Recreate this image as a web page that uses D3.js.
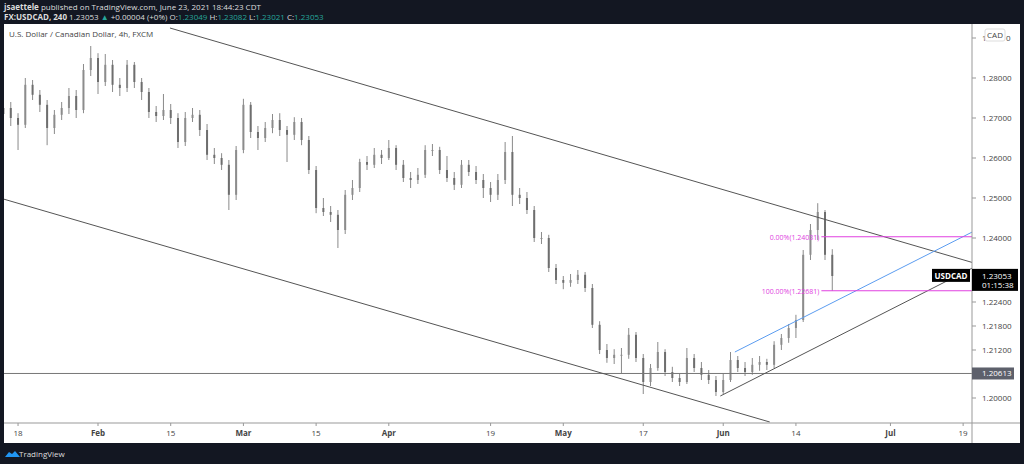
<!DOCTYPE html>
<html><head><meta charset="utf-8">
<script src="https://cdn.jsdelivr.net/npm/d3@7"></script>
<style>
body{margin:0;background:#131722;}
svg{display:block;font-family:"Open Sans",sans-serif;}
</style></head><body>
<svg id="chart" width="1024" height="464"></svg>
<script>
// daily OHLC, index 0 = Jan 14 2021
const opens = [1.2710,1.2725,1.2700,1.2683,1.2783,1.2758,1.2733,1.2675,1.2708,1.2725,1.2755,1.2720,1.2820,1.2850,1.2790,1.2833,1.2783,1.2775,1.2833,1.2790,
1.2765,1.2715,1.2705,1.2720,1.2700,1.2640,1.2700,1.2708,1.2670,1.2608,1.2600,1.2583,1.2508,1.2620,1.2733,1.2665,1.2650,1.2675,1.2695,1.2670,
1.2658,1.2690,1.2645,1.2570,1.2475,1.2465,1.2458,1.2420,1.2508,1.2525,1.2590,1.2583,1.2608,1.2600,1.2625,1.2583,1.2550,1.2545,1.2558,1.2620,
1.2620,1.2570,1.2550,1.2533,1.2583,1.2565,1.2545,1.2525,1.2508,1.2545,1.2615,1.2508,1.2500,1.2470,1.2400,1.2400,1.2325,1.2295,1.2288,1.2295,
1.2308,1.2275,1.2183,1.2120,1.2100,1.2108,1.2108,1.2158,1.2100,1.2040,1.2075,1.2115,1.2065,1.2050,1.2040,1.2100,1.2075,1.2058,1.2045,1.2015,
1.2045,1.2095,1.2075,1.2065,1.2083,1.2090,1.2083,1.2133,1.2150,1.2175,1.2195,1.2358,1.2420,1.2465,1.2358];
const highs = [1.2745,1.2740,1.2712,1.2800,1.2795,1.2770,1.2745,1.2720,1.2740,1.2775,1.2770,1.2835,1.2880,1.2862,1.2860,1.2845,1.2800,1.2845,1.2840,1.2800,
1.2775,1.2730,1.2760,1.2735,1.2712,1.2715,1.2725,1.2720,1.2685,1.2625,1.2612,1.2595,1.2630,1.2748,1.2740,1.2680,1.2690,1.2710,1.2712,1.2680,
1.2702,1.2700,1.2655,1.2580,1.2500,1.2480,1.2470,1.2520,1.2545,1.2598,1.2605,1.2625,1.2620,1.2645,1.2632,1.2595,1.2565,1.2575,1.2632,1.2635,
1.2628,1.2605,1.2565,1.2595,1.2595,1.2580,1.2560,1.2540,1.2560,1.2640,1.2655,1.2525,1.2515,1.2480,1.2415,1.2408,1.2335,1.2305,1.2310,1.2320,
1.2315,1.2285,1.2192,1.2135,1.2122,1.2125,1.2175,1.2165,1.2110,1.2085,1.2140,1.2122,1.2078,1.2062,1.2125,1.2110,1.2090,1.2070,1.2055,1.2060,
1.2115,1.2105,1.2090,1.2100,1.2105,1.2098,1.2142,1.2160,1.2185,1.2208,1.2370,1.2435,1.2487,1.2470,1.2372];
const lows = [1.2695,1.2680,1.2620,1.2675,1.2745,1.2715,1.2632,1.2660,1.2695,1.2710,1.2700,1.2712,1.2805,1.2760,1.2780,1.2765,1.2755,1.2765,1.2775,1.2745,
1.2700,1.2690,1.2695,1.2685,1.2625,1.2630,1.2690,1.2655,1.2595,1.2585,1.2570,1.2470,1.2495,1.2612,1.2650,1.2620,1.2640,1.2662,1.2655,1.2590,
1.2645,1.2632,1.2560,1.2462,1.2455,1.2440,1.2375,1.2410,1.2495,1.2515,1.2570,1.2575,1.2585,1.2595,1.2570,1.2540,1.2525,1.2535,1.2550,1.2605,
1.2560,1.2540,1.2520,1.2525,1.2555,1.2535,1.2500,1.2490,1.2495,1.2535,1.2480,1.2485,1.2460,1.2390,1.2385,1.2315,1.2285,1.2272,1.2278,1.2285,
1.2265,1.2175,1.2110,1.2088,1.2085,1.2062,1.2098,1.2090,1.2010,1.2030,1.2068,1.2055,1.2040,1.2030,1.2035,1.2065,1.2045,1.2035,1.2005,1.2010,
1.2040,1.2065,1.2055,1.2058,1.2068,1.2070,1.2075,1.2120,1.2138,1.2150,1.2190,1.2345,1.2395,1.2345,1.2268];
const closes = [1.2725,1.2700,1.2683,1.2783,1.2758,1.2733,1.2675,1.2708,1.2725,1.2755,1.2720,1.2820,1.2850,1.2790,1.2833,1.2783,1.2775,1.2833,1.2790,1.2765,
1.2715,1.2705,1.2720,1.2700,1.2640,1.2700,1.2708,1.2670,1.2608,1.2600,1.2583,1.2508,1.2620,1.2733,1.2665,1.2650,1.2675,1.2695,1.2670,1.2658,
1.2690,1.2645,1.2570,1.2475,1.2465,1.2458,1.2420,1.2508,1.2525,1.2590,1.2583,1.2608,1.2600,1.2625,1.2583,1.2550,1.2545,1.2558,1.2620,1.2620,
1.2570,1.2550,1.2533,1.2583,1.2565,1.2545,1.2525,1.2508,1.2545,1.2615,1.2508,1.2500,1.2470,1.2400,1.2400,1.2325,1.2295,1.2288,1.2295,1.2308,
1.2275,1.2183,1.2120,1.2100,1.2108,1.2108,1.2158,1.2100,1.2040,1.2075,1.2115,1.2065,1.2050,1.2040,1.2100,1.2075,1.2058,1.2045,1.2015,1.2045,
1.2095,1.2075,1.2065,1.2083,1.2090,1.2083,1.2133,1.2150,1.2175,1.2195,1.2358,1.2420,1.2465,1.2358,1.2305];

const xTickIdx = [2,13,23,33,43,53,67,77,88,99,109,122,132];
const xTickText = ["18","Feb","15","Mar","15","Apr","19","May","17","Jun","14","Jul","19"];
const xTickBold = [false,true,false,true,false,true,false,true,false,true,false,true,false];
const yTicks = [1.28,1.27,1.26,1.25,1.24,1.224,1.218,1.212,1.20];

// drawn lines: [idx1, price1, idx2, price2]
const trendLines = [
  {p:[22.9,1.2925,140,1.2303], c:"#555"},
  {p:[-0.5,1.2500,105.4,1.1940], c:"#555"},
  {p:[98.6,1.2005,140,1.2387], c:"#555"},
  {p:[100.6,1.2115,140,1.2477], c:"#5b9cf0"}
];
const hLine = 1.20613;
const fibLevels = [{v:1.24031,t:"0.00%(1.24031)"},{v:1.22681,t:"100.00%(1.22681)"}];
const fibStart = 112.5;
const lastPrice = 1.23053;

const svg = d3.select("#chart");
const L = 4, R = 972, T = 24, B = 423;

svg.append("rect").attr("x",4).attr("y",24).attr("width",1016).attr("height",419).attr("fill","#fff");

const x = d3.scaleLinear().domain([0,1]).range([3.5,10.77]);
const y = d3.scaleLinear().domain([1.24,1.25]).range([238,198]);

const defs = svg.append("defs");
defs.append("clipPath").attr("id","plot").append("rect").attr("x",L).attr("y",T).attr("width",R-L).attr("height",B-T);
const plot = svg.append("g").attr("clip-path","url(#plot)");

// candles
const idx = d3.range(closes.length);
plot.selectAll(".wick").data(idx).enter().append("line")
  .attr("x1",i=>x(i)).attr("x2",i=>x(i)).attr("y1",i=>y(highs[i])).attr("y2",i=>y(lows[i]))
  .attr("stroke","#8a8a8a").attr("stroke-width",1);
plot.selectAll(".body").data(idx).enter().append("rect")
  .attr("x",i=>x(i)-1).attr("width",2)
  .attr("y",i=>y(Math.max(opens[i],closes[i])))
  .attr("height",i=>Math.max(1,Math.abs(y(opens[i])-y(closes[i]))))
  .attr("fill",i=>closes[i]>=opens[i]?"#8c8c8c":"#6e6e6e");

// lines
plot.append("line").attr("x1",L).attr("x2",R).attr("y1",y(hLine)).attr("y2",y(hLine)).attr("stroke","#777");
trendLines.forEach(l=>{
  plot.append("line").attr("x1",x(l.p[0])).attr("y1",y(l.p[1])).attr("x2",x(l.p[2])).attr("y2",y(l.p[3]))
    .attr("stroke",l.c).attr("stroke-width",1);
});
fibLevels.forEach(f=>{
  plot.append("line").attr("x1",x(fibStart)).attr("x2",R).attr("y1",y(f.v)).attr("y2",y(f.v)).attr("stroke","#e040e0");
  plot.append("text").attr("x",x(fibStart)-2).attr("y",y(f.v)+3).attr("text-anchor","end")
    .attr("font-size",7).attr("fill","#e040e0").text(f.t);
});

// axes
svg.append("line").attr("x1",R).attr("x2",R).attr("y1",T).attr("y2",443).attr("stroke","#999");
svg.append("line").attr("x1",L).attr("x2",1020).attr("y1",B).attr("y2",B).attr("stroke","#999");
const yAx = svg.append("g").selectAll("g").data(yTicks).enter().append("g");
yAx.append("line").attr("x1",R).attr("x2",R+4).attr("y1",d=>y(d)).attr("y2",d=>y(d)).attr("stroke","#999");
yAx.append("text").attr("x",R+10).attr("y",d=>y(d)+3).attr("font-size",8).attr("fill","#444").text(d=>d.toFixed(5));
// top tick partly hidden under the currency badge
svg.append("line").attr("x1",R).attr("x2",R+4).attr("y1",y(1.29)).attr("y2",y(1.29)).attr("stroke","#999");
svg.append("text").attr("x",R+10).attr("y",y(1.29)+3).attr("font-size",8).attr("fill","#444").text("1.");
svg.append("text").attr("x",1006).attr("y",y(1.29)+3).attr("font-size",8).attr("fill","#444").text("0");
const xAx = svg.append("g").selectAll("g").data(xTickIdx).enter().append("g");
xAx.append("line").attr("x1",i=>x(i)).attr("x2",i=>x(i)).attr("y1",B).attr("y2",B+3).attr("stroke","#999");
xAx.append("text").attr("x",i=>x(i)).attr("y",436).attr("text-anchor","middle").attr("font-size",8)
  .attr("font-weight",(d,k)=>xTickBold[k]?"bold":"normal").attr("fill","#444").text((d,k)=>xTickText[k]);

// CAD badge
svg.append("rect").attr("x",985).attr("y",29).attr("width",20).attr("height",12).attr("fill","#fff").attr("stroke","#ddd").attr("rx",2);
svg.append("text").attr("x",995).attr("y",38).attr("text-anchor","middle").attr("font-size",8).attr("fill","#444").text("CAD");

// price labels
svg.append("rect").attr("x",R).attr("y",y(hLine)-6).attr("width",42).attr("height",12).attr("fill","#5d606b");
svg.append("text").attr("x",R+10).attr("y",y(hLine)+3).attr("font-size",8).attr("fill","#fff").text(hLine.toFixed(5));
svg.append("rect").attr("x",R).attr("y",y(lastPrice)-7).attr("width",46).attr("height",22).attr("fill","#000");
svg.append("text").attr("x",R+10).attr("y",y(lastPrice)+3).attr("font-size",8).attr("fill","#fff").text(lastPrice.toFixed(5));
svg.append("text").attr("x",R+10).attr("y",y(lastPrice)+12).attr("font-size",8).attr("fill","#fff").text("01:15:38");
svg.append("rect").attr("x",932).attr("y",y(lastPrice)-7).attr("width",38).attr("height",13).attr("fill","#000");
svg.append("text").attr("x",951).attr("y",y(lastPrice)+3).attr("text-anchor","middle").attr("font-size",8)
  .attr("font-weight","bold").attr("fill","#fff").text("USDCAD");

// header
svg.append("text").attr("x",4).attr("y",10).attr("font-size",8).attr("fill","#ddd")
  .html('<tspan font-weight="bold">jsaettele</tspan> published on TradingView.com, June 23, 2021 18:44:23 CDT');
const h2 = svg.append("text").attr("x",4).attr("y",20).attr("font-size",8).attr("fill","#ddd");
h2.append("tspan").attr("font-weight","bold").text("FX:USDCAD, 240 ");
h2.append("tspan").text("1.23053 ");
h2.append("tspan").attr("fill","#26a69a").text("▲");
h2.append("tspan").text(" +0.00004 (+0%) O:");
h2.append("tspan").attr("fill","#26a69a").text("1.23049");
h2.append("tspan").text(" H:");
h2.append("tspan").attr("fill","#26a69a").text("1.23082");
h2.append("tspan").text(" L:");
h2.append("tspan").attr("fill","#26a69a").text("1.23021");
h2.append("tspan").text(" C:");
h2.append("tspan").attr("fill","#26a69a").text("1.23053");
svg.append("text").attr("x",9).attr("y",37).attr("font-size",8).attr("fill","#444").text("U.S. Dollar / Canadian Dollar, 4h, FXCM");

// footer
svg.append("path").attr("d","M5,457 l4,-5 l3,2 l3,-3 l5,6 z").attr("fill","#2196f3");
svg.append("text").attr("x",19).attr("y",457).attr("font-size",8).attr("fill","#ddd").text("TradingView");
</script></body></html>
